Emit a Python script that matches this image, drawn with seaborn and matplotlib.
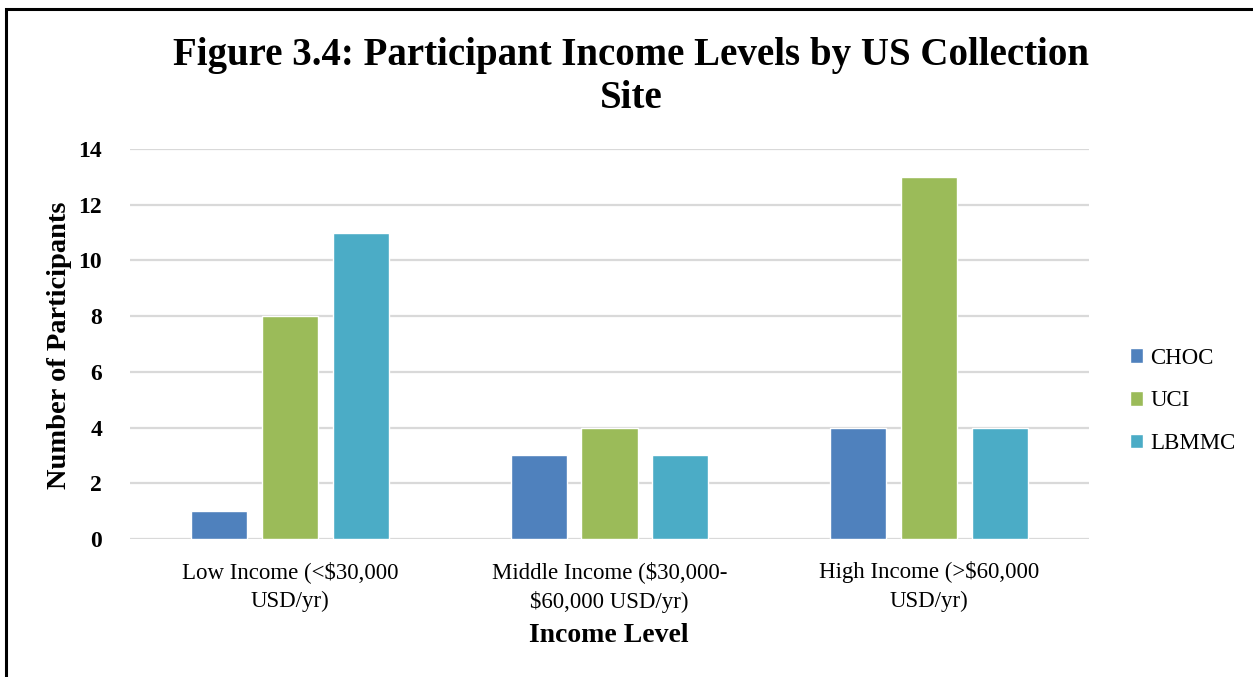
import matplotlib
matplotlib.use("Agg")
import matplotlib.pyplot as plt
import matplotlib.patches as mpatches
import seaborn as sns
import pandas as pd

# Income categories and participant counts per collection site
categories = [
    "Low Income (<\\$30,000\nUSD/yr)",
    "Middle Income (\\$30,000-\n\\$60,000 USD/yr)",
    "High Income (>\\$60,000\nUSD/yr)",
]
sites = ["CHOC", "UCI", "LBMMC"]
choc = [1, 3, 4]
uci = [8, 4, 13]
lbmmc = [11, 3, 4]
y_ticks = [0, 2, 4, 6, 8, 10, 12, 14]

colors = {"CHOC": "#4F81BD", "UCI": "#9BBB59", "LBMMC": "#4BACC6"}

rows = []
for site, vals in zip(sites, [choc, uci, lbmmc]):
    for cat, v in zip(categories, vals):
        rows.append({"Income Level": cat, "Site": site, "Count": v})
df = pd.DataFrame(rows)

sns.set_theme(style="white")
plt.rcParams["font.family"] = ["Liberation Serif", "DejaVu Serif"]
plt.rcParams["text.color"] = "black"
plt.rcParams["xtick.color"] = "black"
plt.rcParams["ytick.color"] = "black"

W, H = 1253, 677
fig = plt.figure(figsize=(W / 100, H / 100), dpi=100)
ax = fig.add_axes([130 / W, 1 - 539 / H, (1089 - 130) / W, (539 - 149) / H])

sns.barplot(
    data=df, x="Income Level", y="Count", hue="Site",
    order=categories, hue_order=sites, palette=colors,
    width=0.666, gap=0.21, saturation=1, errorbar=None,
    ax=ax, zorder=3, legend=True,
)

ax.set_ylim(0, 14)
ax.set_xlim(-0.5, 2.5)
ax.set_yticks(y_ticks)
ax.set_yticklabels([str(t) for t in y_ticks], fontsize=17, fontweight="bold")
ax.tick_params(axis="y", length=0, pad=20)
ax.set_xticks(range(len(categories)))
ax.set_xticklabels(categories, fontsize=16.5, linespacing=1.45)
ax.tick_params(axis="x", length=0, pad=16)
ax.grid(axis="y", color="#D9D9D9", linewidth=1.6, zorder=0)
ax.set_axisbelow(True)
for s in ax.spines.values():
    s.set_visible(False)
ax.set_xlabel("")
ax.set_ylabel("")

# Axis titles
fig.text(609 / W, 1 - 636 / H, "Income Level", ha="center", va="center",
         fontsize=20, fontweight="bold")
fig.text(60 / W, 1 - 345 / H, "Number of Participants", ha="center", va="center",
         rotation=90, fontsize=20.5, fontweight="bold")

# Title
fig.text(631 / W, 1 - 55 / H, "Figure 3.4: Participant Income Levels by US Collection",
         ha="center", va="center", fontsize=28, fontweight="bold")
fig.text(631 / W, 1 - 98 / H, "Site", ha="center", va="center",
         fontsize=28, fontweight="bold")

# Legend at right
leg = ax.legend(
    loc="center left", bbox_to_anchor=(1109 / W, 1 - 401 / H),
    bbox_transform=fig.transFigure, frameon=False, fontsize=16.5,
    handlelength=0.6, handleheight=0.6, handletextpad=0.3, labelspacing=0.95,
)

# Outer frame
fig.patches.append(mpatches.Rectangle(
    (6 / W, -0.1), 2.0, (H - 9) / H + 0.1, transform=fig.transFigure,
    fill=False, edgecolor="black", linewidth=2.2))

fig.savefig("out.png", dpi=100)
